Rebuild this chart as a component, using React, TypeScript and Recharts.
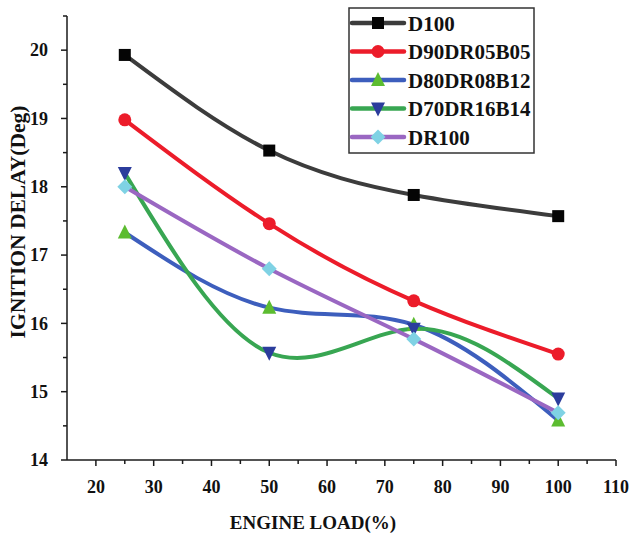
import React from 'react';
import { LineChart, Line, XAxis, YAxis, Legend } from 'recharts';

const loads = [25, 50, 75, 100];
const d100 = [19.93, 18.53, 17.88, 17.57];
const d90 = [18.98, 17.46, 16.33, 15.55];
const d80 = [17.33, 16.23, 15.98, 14.58];
const d70 = [18.2, 15.57, 15.92, 14.9];
const dr100 = [18.0, 16.8, 15.77, 14.69];

const xTicks = [20, 25, 30, 35, 40, 45, 50, 55, 60, 65, 70, 75, 80, 85, 90, 95, 100, 105, 110];
const yTicks = [14, 14.5, 15, 15.5, 16, 16.5, 17, 17.5, 18, 18.5, 19, 19.5, 20, 20.5];

const data = loads.map((load, i) => ({
  load,
  D100: d100[i],
  D90DR05B05: d90[i],
  D80DR08B12: d80[i],
  D70DR16B14: d70[i],
  DR100: dr100[i],
}));

const FONT = '"Liberation Serif", "Times New Roman", serif';
const AXIS = '#1a1a1a';
const TICK_SIZE = 6;
const TICK_MARGIN = 8;

type Shape = 'square' | 'circle' | 'up' | 'down' | 'diamond';

const series: { key: string; line: string; marker: string; shape: Shape }[] = [
  { key: 'D100', line: '#3c3c3c', marker: '#050505', shape: 'square' },
  { key: 'D90DR05B05', line: '#ec1c2a', marker: '#ec1c2a', shape: 'circle' },
  { key: 'D80DR08B12', line: '#3d5ebd', marker: '#5cbc30', shape: 'up' },
  { key: 'D70DR16B14', line: '#38a652', marker: '#2b3c9c', shape: 'down' },
  { key: 'DR100', line: '#9a67c2', marker: '#7fd2e4', shape: 'diamond' },
];

function marker(shape: Shape, cx: number, cy: number, color: string, key?: string) {
  const s = 7;
  switch (shape) {
    case 'square':
      return <rect key={key} x={cx - 6} y={cy - 6} width={12} height={12} fill={color} />;
    case 'circle':
      return <circle key={key} cx={cx} cy={cy} r={6.5} fill={color} />;
    case 'up':
      return <polygon key={key} points={`${cx},${cy - s - 1} ${cx - s},${cy + s - 1} ${cx + s},${cy + s - 1}`} fill={color} />;
    case 'down':
      return <polygon key={key} points={`${cx},${cy + s + 1} ${cx - s},${cy - s + 1} ${cx + s},${cy - s + 1}`} fill={color} />;
    case 'diamond':
    default:
      return <polygon key={key} points={`${cx},${cy - 7.5} ${cx + 7.5},${cy} ${cx},${cy + 7.5} ${cx - 7.5},${cy}`} fill={color} />;
  }
}

const YTick = (props: any) => {
  const { x, y, payload } = props;
  const v = payload.value;
  const major = Number.isInteger(v);
  const ax = x + TICK_SIZE + TICK_MARGIN;
  const len = major ? 6 : 4;
  return (
    <g>
      <line x1={ax - len} x2={ax} y1={y} y2={y} stroke={AXIS} strokeWidth={1.5} />
      {major && (
        <text x={x - 5} y={y} dy="0.35em" textAnchor="end" fontFamily={FONT} fontWeight="bold" fontSize={18} fill="#111">
          {v}
        </text>
      )}
    </g>
  );
};

const XTick = (props: any) => {
  const { x, y, payload } = props;
  const v = payload.value;
  const major = v % 10 === 0;
  const ay = y - TICK_SIZE - TICK_MARGIN;
  const len = major ? 6 : 4;
  return (
    <g>
      <line x1={x} x2={x} y1={ay} y2={ay + len} stroke={AXIS} strokeWidth={1.5} />
      {major && (
        <text x={x} y={ay + 33} textAnchor="middle" fontFamily={FONT} fontWeight="bold" fontSize={18} fill="#111">
          {v}
        </text>
      )}
    </g>
  );
};

const renderLegend = () => (
  <svg width={188} height={148} style={{ display: 'block' }}>
    <rect x={1} y={1} width={185} height={145} fill="#fff" stroke="#333" strokeWidth={1.5} />
    {series.map((s, i) => {
      const cy = 16 + i * 28.5;
      return (
        <g key={s.key}>
          <line x1={4} x2={56} y1={cy} y2={cy} stroke={s.line} strokeWidth={4.5} strokeLinecap="round" />
          {marker(s.shape, 30, cy, s.marker)}
          <text x={60} y={cy} dy="0.36em" fontFamily={FONT} fontWeight="bold" fontSize={21} fill="#111">
            {s.key}
          </text>
        </g>
      );
    })}
  </svg>
);

export default function App() {
  return (
    <div style={{ position: 'absolute', left: 0, top: 0, width: 640, height: 540, background: '#fff' }}>
      <LineChart width={640} height={540} data={data} margin={{ top: 16, right: 24, left: 0, bottom: 0 }}>
        <XAxis
          dataKey="load"
          type="number"
          domain={[15, 110]}
          ticks={xTicks}
          interval={0}
          height={80}
          tickSize={TICK_SIZE}
          tickMargin={TICK_MARGIN}
          tickLine={false}
          tick={<XTick />}
          axisLine={{ stroke: AXIS, strokeWidth: 1.5 }}
          label={(p: any) => {
            const vb = p.viewBox;
            return (
              <text x={313} y={vb.y + 69} textAnchor="middle" fontFamily={FONT} fontWeight="bold" fontSize={19} fill="#111">
                ENGINE LOAD(%)
              </text>
            );
          }}
        />
        <YAxis
          type="number"
          domain={[14, 20.5]}
          ticks={yTicks}
          interval={0}
          width={67}
          tickSize={TICK_SIZE}
          tickMargin={TICK_MARGIN}
          tickLine={false}
          tick={<YTick />}
          axisLine={{ stroke: AXIS, strokeWidth: 1.5 }}
          label={() => (
            <text
              x={18}
              y={222}
              transform={`rotate(-90, 18, 222)`}
              textAnchor="middle"
              dominantBaseline="central"
              fontFamily={FONT}
              fontWeight="bold"
              fontSize={21.5}
              fill="#111"
            >
              IGNITION DELAY(Deg)
            </text>
          )}
        />
        <Legend
          layout="horizontal"
          verticalAlign="middle"
          align="center"
          content={renderLegend}
          wrapperStyle={{ left: 348, top: 7, width: 188, height: 148 }}
        />
        {series.map((s) => (
          <Line
            key={s.key}
            dataKey={s.key}
            type="natural"
            stroke={s.line}
            strokeWidth={4}
            isAnimationActive={false}
            dot={(p: any) => marker(s.shape, p.cx, p.cy, s.marker, `${s.key}-${p.index}`)}
            activeDot={false}
          />
        ))}
      </LineChart>
    </div>
  );
}
